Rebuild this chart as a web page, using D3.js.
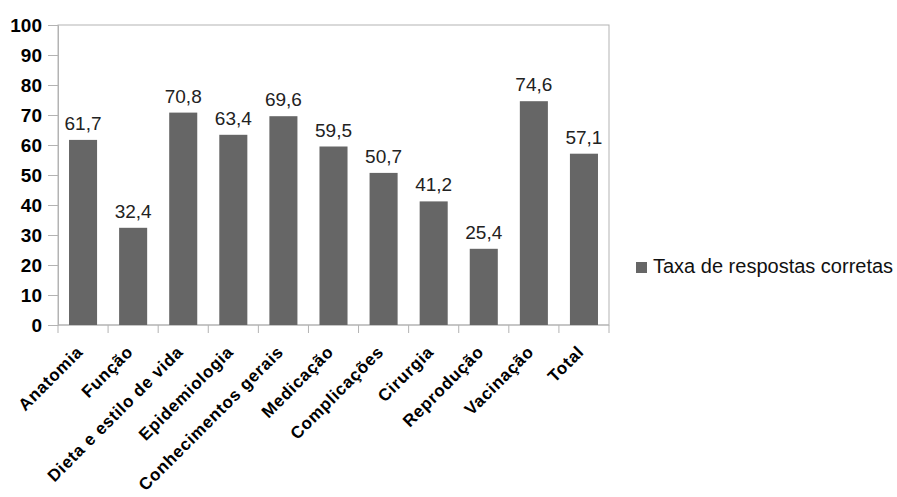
<!DOCTYPE html>
<html>
<head>
<meta charset="utf-8">
<script src="https://cdn.jsdelivr.net/npm/d3@7"></script>
<style>
  body { margin: 0; background: #fff; }
  svg { font-family: "Liberation Sans", Arial, sans-serif; }
</style>
</head>
<body>
<script>
// data
var categories = ["Anatomia", "Função", "Dieta e estilo de vida", "Epidemiologia",
  "Conhecimentos gerais", "Medicação", "Complicações", "Cirurgia",
  "Reprodução", "Vacinação", "Total"]
var values = [61.7, 32.4, 70.8, 63.4, 69.6, 59.5, 50.7, 41.2, 25.4, 74.6, 57.1]
var yTicks = [0, 10, 20, 30, 40, 50, 60, 70, 80, 90, 100]
var seriesName = "Taxa de respostas corretas"

var W = 897, H = 497
var margin = {top: 25, left: 58}
var w = 551, h = 300

var svg = d3.select("body").append("svg")
  .attr("width", W).attr("height", H)

var g = svg.append("g")
  .attr("transform", "translate(" + margin.left + "," + margin.top + ")")

var xScale = d3.scaleBand()
  .domain(categories)
  .range([0, w])
  .paddingInner(0.44)
  .paddingOuter(0.22)

var yScale = d3.scaleLinear()
  .domain([0, 100])
  .range([h, 0])

// frame
g.append("rect")
  .attr("x", 0).attr("y", 0)
  .attr("width", w).attr("height", h)
  .attr("fill", "none")
  .attr("stroke", "#b3b3b3")
  .attr("stroke-width", 1)

// y axis
var yAxis = g.append("g")
  .call(d3.axisLeft(yScale).tickValues(yTicks).tickSize(10).tickPadding(6))
yAxis.select(".domain").attr("stroke", "#b3b3b3")
yAxis.selectAll(".tick line").attr("stroke", "#b3b3b3")
yAxis.selectAll(".tick text")
  .attr("fill", "#000")
  .style("font-size", "19px")
  .style("font-weight", "bold")
  .style("font-family", "Liberation Sans, Arial, sans-serif")

// x axis ticks on band boundaries
var xAxis = g.append("g").attr("transform", "translate(0," + h + ")")
xAxis.append("line")
  .attr("x1", 0).attr("x2", w)
  .attr("stroke", "#b3b3b3")
var step = w / categories.length
xAxis.selectAll("line.tk")
  .data(d3.range(categories.length + 1))
  .enter().append("line")
  .attr("class", "tk")
  .attr("x1", function(i) { return i * step })
  .attr("x2", function(i) { return i * step })
  .attr("y1", 0).attr("y2", 8)
  .attr("stroke", "#b3b3b3")

xAxis.selectAll("text")
  .data(categories)
  .enter().append("text")
  .attr("transform", function(d) {
    return "translate(" + (xScale(d) + xScale.bandwidth() / 2 + 1) + ",28) rotate(-45)"
  })
  .attr("text-anchor", "end")
  .style("font-size", "17px")
  .style("font-weight", "bold")
  .style("letter-spacing", "0.7px")
  .text(function(d) { return d })

// bars
g.selectAll("rect.bar")
  .data(values)
  .enter().append("rect")
  .attr("class", "bar")
  .attr("x", function(d, i) { return xScale(categories[i]) })
  .attr("y", function(d) { return yScale(d) })
  .attr("width", xScale.bandwidth())
  .attr("height", function(d) { return h - yScale(d) })
  .attr("fill", "#666666")

// value labels
g.selectAll("text.val")
  .data(values)
  .enter().append("text")
  .attr("class", "val")
  .attr("x", function(d, i) { return xScale(categories[i]) + xScale.bandwidth() / 2 })
  .attr("y", function(d) { return yScale(d) - 10 })
  .attr("text-anchor", "middle")
  .style("font-size", "19px")
  .attr("fill", "#222")
  .text(function(d) { return d3.format(".1f")(d).replace(".", ",") })

// legend
var legend = svg.append("g").attr("transform", "translate(636,262)")
legend.append("rect")
  .attr("width", 11).attr("height", 11)
  .attr("fill", "#666666")
legend.append("text")
  .attr("x", 17).attr("y", 11)
  .style("font-size", "20px")
  .attr("fill", "#111")
  .text(seriesName)
</script>
</body>
</html>
